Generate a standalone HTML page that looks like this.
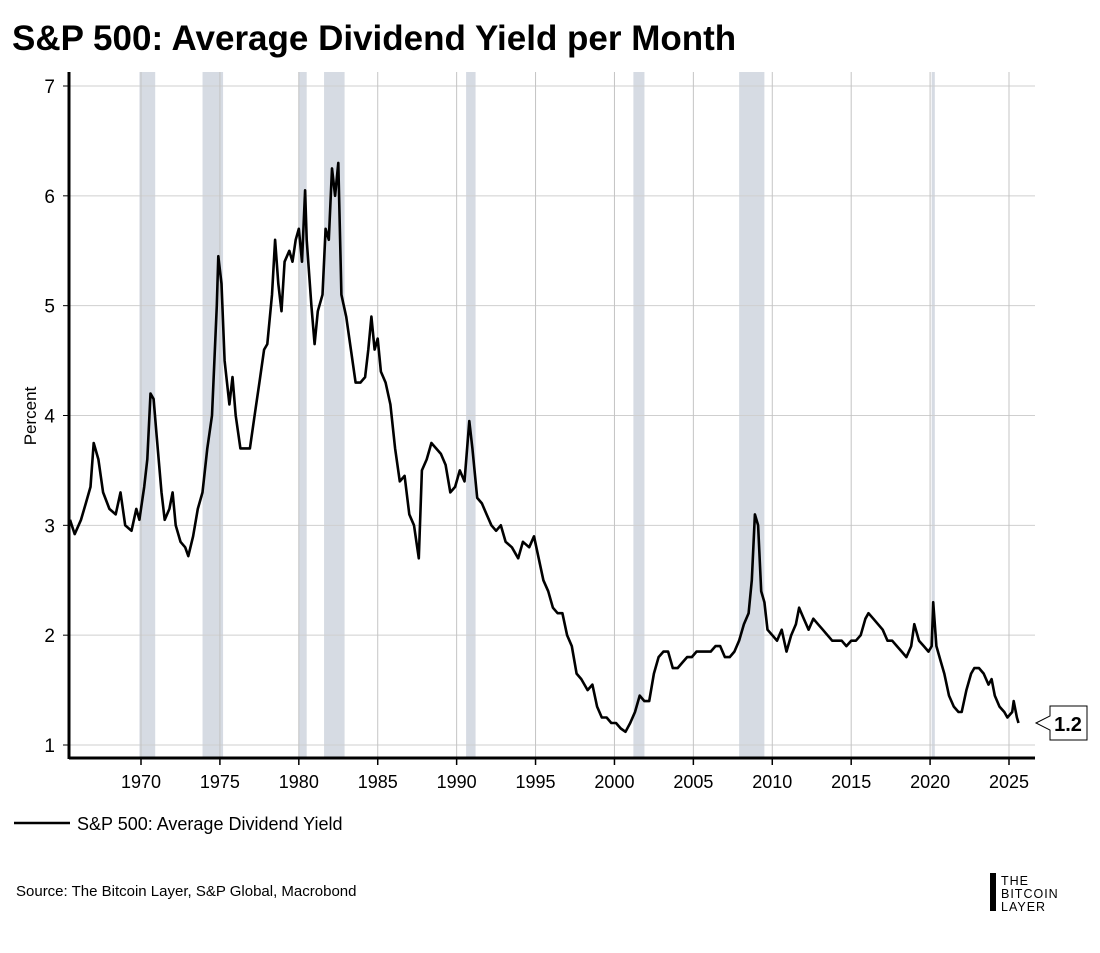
<!DOCTYPE html>
<html><head><meta charset="utf-8"><style>
body{margin:0;background:#fff;font-family:"Liberation Sans",sans-serif;}
svg{display:block}
</style></head><body>
<svg width="1100" height="953" xmlns="http://www.w3.org/2000/svg">
<text x="12" y="50" font-size="35" font-weight="bold" fill="#000">S&amp;P 500: Average Dividend Yield per Month</text>
<g id="bands"></g>
<g id="grid"></g>
<g id="axes"></g>
<path id="line" fill="none" stroke="#000" stroke-width="2.6" stroke-linejoin="round"/>
<text x="36" y="416" font-size="17" transform="rotate(-90 36 416)" text-anchor="middle" fill="#000">Percent</text>
<g>
<path d="M1036,723 L1050,716 L1050,706 L1087,706 L1087,740 L1050,740 L1050,730 Z" fill="#fff" stroke="#000" stroke-width="1"/>
<text x="1068" y="731" font-size="20" font-weight="bold" text-anchor="middle">1.2</text>
</g>
<g>
<line x1="14" y1="823" x2="70" y2="823" stroke="#000" stroke-width="2.6"/>
<text x="77" y="830" font-size="18">S&amp;P 500: Average Dividend Yield</text>
</g>
<text x="16" y="896" font-size="15">Source: The Bitcoin Layer, S&amp;P Global, Macrobond</text>
<g>
<rect x="990" y="873" width="6" height="38" fill="#000"/>
<text x="1001" y="885" font-size="12.5" letter-spacing="1">THE</text>
<text x="1001" y="898" font-size="12.5" letter-spacing="1">BITCOIN</text>
<text x="1001" y="911" font-size="12.5" letter-spacing="1">LAYER</text>
</g>
</svg>
<script>
const yTicks=[1,2,3,4,5,6,7];
const xTicks=[1970,1975,1980,1985,1990,1995,2000,2005,2010,2015,2020,2025];
const recessions=[[1969.9,1970.9],[1973.9,1975.2],[1980.0,1980.5],[1981.6,1982.9],[1990.6,1991.2],[2001.2,2001.9],[2007.9,2009.5],[2020.1,2020.3]];
const dates=[1965.5,1965.8,1966.2,1966.5,1966.8,1967.0,1967.3,1967.6,1968.0,1968.4,1968.7,1969.0,1969.4,1969.7,1969.9,1970.2,1970.4,1970.6,1970.8,1971.0,1971.3,1971.5,1971.8,1972.0,1972.2,1972.5,1972.8,1973.0,1973.3,1973.6,1973.9,1974.2,1974.5,1974.8,1974.9,1975.1,1975.3,1975.6,1975.8,1976.0,1976.3,1976.6,1976.9,1977.2,1977.5,1977.8,1978.0,1978.3,1978.5,1978.7,1978.9,1979.1,1979.4,1979.6,1979.8,1980.0,1980.2,1980.4,1980.5,1980.8,1981.0,1981.2,1981.5,1981.7,1981.9,1982.1,1982.3,1982.5,1982.7,1983.0,1983.3,1983.6,1983.9,1984.2,1984.4,1984.6,1984.8,1985.0,1985.2,1985.5,1985.8,1986.1,1986.4,1986.7,1987.0,1987.3,1987.6,1987.8,1988.1,1988.4,1988.7,1989.0,1989.3,1989.6,1989.9,1990.2,1990.5,1990.8,1991.0,1991.3,1991.6,1991.9,1992.2,1992.5,1992.8,1993.1,1993.5,1993.9,1994.2,1994.6,1994.9,1995.2,1995.5,1995.8,1996.1,1996.4,1996.7,1997.0,1997.3,1997.6,1997.9,1998.3,1998.6,1998.9,1999.2,1999.5,1999.8,2000.1,2000.4,2000.7,2001.0,2001.3,2001.6,2001.9,2002.2,2002.5,2002.8,2003.1,2003.4,2003.7,2004.0,2004.3,2004.6,2004.9,2005.2,2005.5,2005.8,2006.1,2006.4,2006.7,2007.0,2007.3,2007.6,2007.9,2008.2,2008.5,2008.7,2008.9,2009.1,2009.3,2009.5,2009.7,2010.0,2010.3,2010.6,2010.9,2011.2,2011.5,2011.7,2012.0,2012.3,2012.6,2012.9,2013.2,2013.5,2013.8,2014.1,2014.4,2014.7,2015.0,2015.3,2015.6,2015.9,2016.1,2016.4,2016.7,2017.0,2017.3,2017.6,2017.9,2018.2,2018.5,2018.8,2019.0,2019.3,2019.6,2019.9,2020.1,2020.2,2020.4,2020.7,2020.9,2021.2,2021.5,2021.8,2022.0,2022.3,2022.6,2022.8,2023.1,2023.4,2023.7,2023.9,2024.1,2024.4,2024.7,2024.9,2025.2,2025.3,2025.5,2025.6];
const yields=[3.05,2.92,3.05,3.2,3.35,3.75,3.6,3.3,3.15,3.1,3.3,3.0,2.95,3.15,3.05,3.35,3.6,4.2,4.15,3.8,3.3,3.05,3.15,3.3,3.0,2.85,2.8,2.72,2.9,3.15,3.3,3.7,4.0,5.0,5.45,5.2,4.5,4.1,4.35,4.0,3.7,3.7,3.7,4.0,4.3,4.6,4.65,5.1,5.6,5.2,4.95,5.4,5.5,5.4,5.6,5.7,5.4,6.05,5.6,5.0,4.65,4.95,5.1,5.7,5.6,6.25,6.0,6.3,5.1,4.9,4.6,4.3,4.3,4.35,4.6,4.9,4.6,4.7,4.4,4.3,4.1,3.7,3.4,3.45,3.1,3.0,2.7,3.5,3.6,3.75,3.7,3.65,3.55,3.3,3.35,3.5,3.4,3.95,3.7,3.25,3.2,3.1,3.0,2.95,3.0,2.85,2.8,2.7,2.85,2.8,2.9,2.7,2.5,2.4,2.25,2.2,2.2,2.0,1.9,1.65,1.6,1.5,1.55,1.35,1.25,1.25,1.2,1.2,1.15,1.12,1.2,1.3,1.45,1.4,1.4,1.65,1.8,1.85,1.85,1.7,1.7,1.75,1.8,1.8,1.85,1.85,1.85,1.85,1.9,1.9,1.8,1.8,1.85,1.95,2.1,2.2,2.5,3.1,3.0,2.4,2.3,2.05,2.0,1.95,2.05,1.85,2.0,2.1,2.25,2.15,2.05,2.15,2.1,2.05,2.0,1.95,1.95,1.95,1.9,1.95,1.95,2.0,2.15,2.2,2.15,2.1,2.05,1.95,1.95,1.9,1.85,1.8,1.9,2.1,1.95,1.9,1.85,1.9,2.3,1.9,1.75,1.65,1.45,1.35,1.3,1.3,1.5,1.65,1.7,1.7,1.65,1.55,1.6,1.45,1.35,1.3,1.25,1.3,1.4,1.25,1.2];
const X0=69,X1=1035,Y0=72,YB=758;
function xs(t){return 141+(t-1970)*(1009-141)/55;}
function ys(v){return 745-(v-1)*(745-86)/6;}
const NS='http://www.w3.org/2000/svg';
function mk(tag,attrs,parent){const e=document.createElementNS(NS,tag);for(const k in attrs)e.setAttribute(k,attrs[k]);parent.appendChild(e);return e;}
const bands=document.getElementById('bands'),grid=document.getElementById('grid'),axes=document.getElementById('axes');
recessions.forEach(r=>{const e=mk('rect',{x:xs(r[0]),y:Y0,width:xs(r[1])-xs(r[0]),height:YB-Y0,fill:'#d6dbe3'},bands);

});
yTicks.forEach(v=>{const l=mk('line',{x1:X0,x2:X1,y1:ys(v),y2:ys(v),stroke:'#cfcfcf','stroke-width':1},grid);


mk('line',{x1:X0-6,x2:X0,y1:ys(v),y2:ys(v),stroke:'#000'},axes);
const t=mk('text',{x:X0-14,y:ys(v)+7,'font-size':19,'text-anchor':'end'},axes);t.textContent=v;

});
xTicks.forEach(v=>{const l=mk('line',{x1:xs(v),x2:xs(v),y1:Y0,y2:YB,stroke:'#c4c4c4','stroke-width':1},grid);


mk('line',{x1:xs(v),x2:xs(v),y1:YB,y2:YB+7,stroke:'#000','stroke-width':1.5},axes);
const t=mk('text',{x:xs(v),y:YB+30,'font-size':18,'text-anchor':'middle'},axes);t.textContent=v;

});
mk('line',{x1:X0,x2:X0,y1:Y0,y2:YB+1,stroke:'#000','stroke-width':3},axes);
mk('line',{x1:X0,x2:X1,y1:YB,y2:YB,stroke:'#000','stroke-width':3},axes);
document.getElementById('line').setAttribute('d',dates.map((d,i)=>(i?'L':'M')+xs(d).toFixed(1)+','+ys(yields[i]).toFixed(1)).join(''));
</script>
</body></html>
